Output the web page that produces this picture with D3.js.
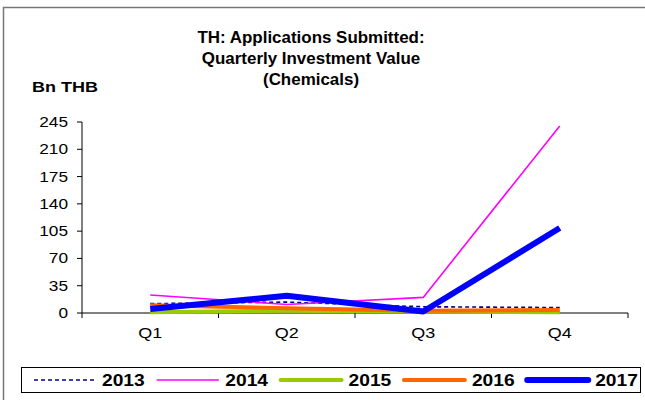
<!DOCTYPE html>
<html>
<head>
<meta charset="utf-8">
<script src="https://cdn.jsdelivr.net/npm/d3@7"></script>
<style>
  body { margin: 0; background: #fff; }
  text { font-family: "Liberation Sans", Arial, sans-serif; fill: #000; }
</style>
</head>
<body>
<svg width="645" height="400"></svg>
<script>
// quarters and yearly series (Bn THB)
const quarters = ['Q1', 'Q2', 'Q3', 'Q4']
const yTicks = [0, 35, 70, 105, 140, 175, 210, 245]
const v2013 = [12, 14, 8, 7]
const v2014 = [23, 11, 20, 240]
const v2015 = [1, 3, 2, 1]
const v2016 = [10, 6, 3, 4]
const v2017 = [5, 22, 2, 109]
const years = ['2013', '2014', '2015', '2016', '2017']

const series = [
    { name: years[0], values: v2013, color: '#000080', width: 1.6, dash: '4,3' },
    { name: years[1], values: v2014, color: '#ff00ff', width: 1.6, dash: null },
    { name: years[2], values: v2015, color: '#99cc00', width: 4, dash: null },
    { name: years[3], values: v2016, color: '#ff6600', width: 4, dash: null },
    { name: years[4], values: v2017, color: '#0000ff', width: 6, dash: null }
]

const svg = d3.select('svg')

// the source picture is a bit stretched sideways, so text gets a scaleX
function label(parent, x, y, str, size, k, opts) {
    opts = opts || {}
    const g = parent.append('g')
        .attr('transform', 'translate(' + x + ',' + y + ') scale(' + k + ',1)')
    return g.append('text')
        .attr('text-anchor', opts.anchor || 'start')
        .attr('font-weight', opts.bold ? 'bold' : 'normal')
        .attr('font-size', size)
        .text(str)
}

// chart frame
svg.append('path')
    .attr('d', 'M3.5,400 V7.5 H645')
    .attr('fill', 'none')
    .attr('stroke', '#777')
    .attr('stroke-width', 1.5)

// title
const title = ['TH: Applications Submitted:', 'Quarterly Investment Value', '(Chemicals)']
title.forEach((t, i) => label(svg, 311, 43 + i * 21, t, 16, 1.06, { anchor: 'middle', bold: true }))

label(svg, 32, 92, 'Bn THB', 15, 1.2, { bold: true })

const x = d3.scaleBand()
    .domain(quarters)
    .range([82, 628])

const y = d3.scaleLinear()
    .domain([0, 245])
    .range([313, 122])

// y axis
const yAxis = svg.append('g')
yAxis.append('line')
    .attr('x1', 82).attr('x2', 82)
    .attr('y1', y(245)).attr('y2', y(0))
    .attr('stroke', '#000')
yAxis.selectAll('.tk')
    .data(yTicks)
    .join('line')
    .attr('class', 'tk')
    .attr('x1', 77).attr('x2', 82)
    .attr('y1', d => y(d)).attr('y2', d => y(d))
    .attr('stroke', '#000')
yTicks.forEach(v => label(yAxis, 68, y(v) + 5, v, 15, 1.15, { anchor: 'end' }))

// x axis
const xAxis = svg.append('g')
    .attr('transform', 'translate(0,' + y(0) + ')')
xAxis.append('line')
    .attr('x1', 82).attr('x2', 628)
    .attr('stroke', '#000')
xAxis.selectAll('.tk')
    .data(quarters.map(q => x(q)).concat([x.range()[1]]))
    .join('line')
    .attr('class', 'tk')
    .attr('x1', d => d).attr('x2', d => d)
    .attr('y1', 0).attr('y2', 5)
    .attr('stroke', '#000')
quarters.forEach(q => label(xAxis, x(q) + x.bandwidth() / 2, 25, q, 15, 1.2, { anchor: 'middle' }))

// lines
const line = d3.line()
    .x((d, i) => x(quarters[i]) + x.bandwidth() / 2)
    .y(d => y(d))

svg.selectAll('.series')
    .data(series)
    .join('path')
    .attr('class', 'series')
    .attr('d', d => line(d.values))
    .attr('fill', 'none')
    .attr('stroke', d => d.color)
    .attr('stroke-width', d => d.width)
    .attr('stroke-dasharray', d => d.dash)
    .attr('stroke-linejoin', 'round')

// legend
const legend = svg.append('g')
legend.append('rect')
    .attr('x', 21.5).attr('y', 367.5)
    .attr('width', 619).attr('height', 25)
    .attr('fill', '#fff')
    .attr('stroke', '#000')

const item = legend.selectAll('.item')
    .data(series)
    .join('g')
    .attr('class', 'item')
    .attr('transform', (d, i) => 'translate(' + (34 + i * 123.3) + ',380)')
item.append('line')
    .attr('x1', 0).attr('x2', 61)
    .attr('stroke', d => d.color)
    .attr('stroke-width', d => d.width)
    .attr('stroke-dasharray', d => d.dash)
    .attr('stroke-linecap', d => d.dash ? 'butt' : 'round')
item.each(function (d) {
    label(d3.select(this), 68, 6, d.name, 16, 1.2, { bold: true })
})
</script>
</body>
</html>
